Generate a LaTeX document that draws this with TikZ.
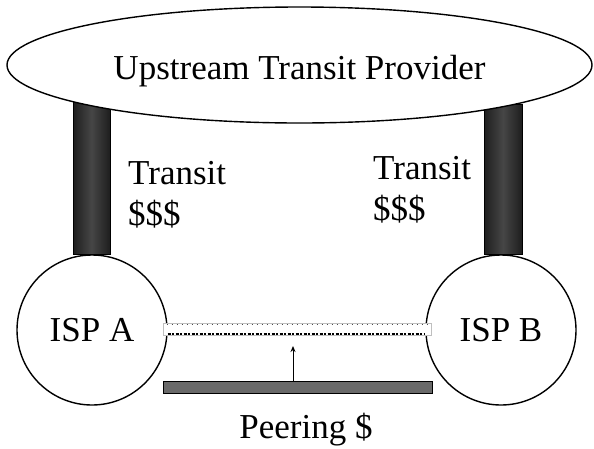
\documentclass[tikz,border=0pt]{standalone}
\usepackage{fontspec}
\setmainfont{Liberation Serif}
\usetikzlibrary{shapes.geometric,arrows.meta,positioning,calc,backgrounds}
\definecolor{linkdark}{RGB}{30,30,30}
\definecolor{linkmid}{RGB}{70,70,70}
\definecolor{peergray}{RGB}{105,105,105}
\tikzset{
  isp/.style={draw, circle, line width=1.4pt, fill=white, minimum size=150pt, inner sep=0pt},
  pillar/.style={draw=black, line width=1pt, left color=linkdark, right color=linkdark, middle color=linkmid},
  lbl/.style={inner sep=0pt, align=left}
}

\begin{document}
\begin{tikzpicture}[x=1pt, y=-1pt, font=\fontsize{35}{41}\selectfont]
				\useasboundingbox (0,0) rectangle (594,448);
				
				% ISPs
				\node[isp] (ispa) at (92,330) {ISP A};
				\node[isp] (ispb) at (501,330) {ISP B};
				
				% Upstream provider
				\node[draw, ellipse, line width=1.4pt, fill=white, minimum width=585pt, minimum height=116pt, inner sep=0pt, text height=30pt, text depth=2pt] (provider) at (299.5,65) {Upstream Transit Provider};
				
				% Transit links
				\begin{scope}[on background layer]
				\path[pillar] ($(ispa.north)+(-19,0)$) rectangle ($(ispa.north)+(18,-155)$);
				\path[pillar] ($(ispb.north)+(-17,0)$) rectangle ($(ispb.north)+(21,-150)$);
				\end{scope}
				
				\node[lbl, anchor=north west] (transa) at (128,161) {Transit\\\$\$\$};
				\node[lbl, anchor=north west] (transb) at (373,156) {Transit\\\$\$\$};
				
				% Peering link
				\draw[draw=black!25, fill=white, line width=0.8pt] ($(ispa.east)+(-4,-7)$) rectangle ($(ispb.west)+(6,5)$);
				\draw[black!70, line width=0.6pt, dash pattern=on 1pt off 4pt] ($(ispa.east)+(-1,-6)$) -- ($(ispb.west)+(3,-6)$);
				\draw[black, line width=1.8pt, dash pattern=on 3pt off 1.5pt on 2pt off 1.5pt] ($(ispa.east)+(0,4)$) -- ($(ispb.west)+(0,4)$);
				
				\node[draw, line width=1pt, fill=peergray, minimum width=269pt, minimum height=12pt, inner sep=0pt] (peerbar) at (297.5,387) {};
				\coordinate (peertip) at (293,346);
				\draw[line width=1pt, -{Stealth[length=6pt,width=5pt]}] (peerbar.north -| peertip) -- (peertip);
				\node[anchor=base] (peerlbl) at (306,438) {Peering \$};
			\end{tikzpicture}
\end{document}
